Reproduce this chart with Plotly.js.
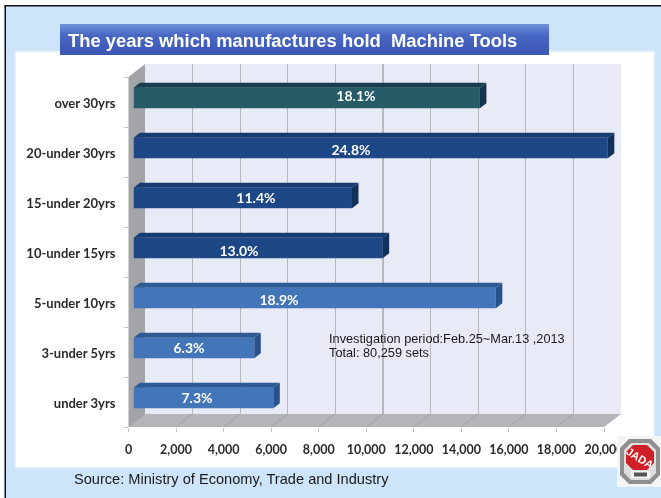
<!DOCTYPE html>
<html>
<head>
<meta charset="utf-8">
<script src="https://cdn.plot.ly/plotly-3.0.1.min.js"></script>
<style>html,body{margin:0;padding:0;background:#fff}#chart{width:661px;height:498px;filter:blur(0.6px)}</style>
</head>
<body>
<div id="chart"></div>
<script>
const categories = ["under 3yrs","3-under 5yrs","5-under 10yrs","10-under 15yrs","15-under 20yrs","20-under 30yrs","over 30yrs"];
const machines = [5880,5080,15240,10480,9190,19950,14570];
const shareLabels = ["7.3%","6.3%","18.9%","13.0%","11.4%","24.8%","18.1%"];
const labelX = [2670,2334,6119,4437,5150,9147,9357];
const labelY = [-0.02,-0.02,-0.06,-0.08,-0.02,-0.06,0.02];
const faceColors = ["#4375b9","#4375b9","#4375b9","#1d4786","#1d4786","#1d4786","#265b68"];
const topColors = ["#2e5a96","#2e5a96","#2e5a96","#173c72","#173c72","#173c72","#173f4e"];
const sideColors = ["#28508a","#28508a","#28508a","#12305c","#12305c","#12305c","#103350"];
const xTicks = [0,2000,4000,6000,8000,10000,12000,14000,16000,18000,20000];
const xTickText = ["0","2,000","4,000","6,000","8,000","10,000","12,000","14,000","16,000","18,000","20,000"];
const yBounds = [-0.5,0.5,1.5,2.5,3.5,4.5,5.5,6.5];
const titleText = "The years which manufactures hold  Machine Tools";
const sourceText = "Source: Ministry of Economy, Trade and Industry";
const noteLines = ["Investigation period:Feb.25~Mar.13 ,2013","Total: 80,259 sets"];

const W = 661, H = 498;
const px = v => v / W, py = v => 1 - v / H;
const xDom = (a, b) => [px(a), px(b)];
const yDom = (top, bottom) => [py(bottom), py(top)];
const xRange = [0, 20000], yRange = [-0.5, 6.5];
const pxPerX = (604 - 128.5) / 20000, pxPerY = 50;

const rect = (x0, y0, x1, y1, fill, layer) => ({type:"rect", xref:"paper", yref:"paper", x0:px(x0), x1:px(x1), y0:py(y1), y1:py(y0), fillcolor:fill, line:{width:0}, layer:layer||"below"});
const poly = (pts, fill, layer) => ({type:"path", xref:"paper", yref:"paper", path:"M"+pts.map(p=>px(p[0])+","+py(p[1])).join("L")+"Z", fillcolor:fill, line:{width:0}, layer:layer||"below"});
const octagon = (x0, y0, x1, y1, c, fill) => poly([[x0+c,y0],[x1-c,y0],[x1,y0+c],[x1,y1-c],[x1-c,y1],[x0+c,y1],[x0,y1-c],[x0,y0+c]], fill, "above");

const mix = (a, b, t) => "rgb(" + a.map((v,i)=>Math.round(v+(b[i]-v)*t)).join(",") + ")";
const shapes = [];
// slide background and frame
shapes.push(rect(0,0,661,498,"#cde5fb"));
shapes.push(rect(0,0,661,5,"#ffffff"));
shapes.push(rect(0,0,5,498,"#ffffff"));
shapes.push(rect(4.5,5,661,6.5,"#111111"));
shapes.push(rect(4.5,5,6,498,"#111111"));
shapes.push(rect(14.5,50.5,655,468.5,"#e3f0fc"));
shapes.push(rect(16,52,653.5,467,"#ffffff"));
// banner
for (let y = 24; y < 55; y++) {
  const t = (y-24)/30;
  const c = t < 0.35 ? mix([112,146,218],[72,104,196],t/0.35) : mix([72,104,196],[58,86,178],(t-0.35)/0.65);
  shapes.push(rect(60,y,549,y+1,c));
}
// chart box
shapes.push(poly([[145,64],[621,64],[621,414],[145,414]],"#e8ebf6"));
shapes.push(poly([[128.5,77],[145,64],[145,414],[128.5,427]],"#a2a4a8"));
shapes.push(poly([[128.5,427],[145,414],[621,414],[604,427]],"#b4b5b9"));
// logo
shapes.push(rect(617,436,661,487,"#f4f4f4","above"));
shapes.push(octagon(620,439,660,484,9,"#8f8f8f"));
shapes.push(octagon(624,443,656,480,7,"#dedede"));
shapes.push(octagon(626,445,654,470,7,"#cf2027"));
shapes.push(rect(631,471,650,478,"#f4f4f4","above"));
shapes.push(rect(634,472.5,647,476.5,"#555555","above"));

const traces = [];
// gridlines live on the back wall axes
traces.push({type:"scatter", x:[], y:[], xaxis:"x", yaxis:"y", hoverinfo:"skip", showlegend:false});
// axis labels sit on x2/y2; the tick marks and floor lines on x4/y4
traces.push({type:"scatter", x:[], y:[], xaxis:"x2", yaxis:"y2", hoverinfo:"skip", showlegend:false});
const fx = [], fy = [];
xTicks.forEach(t => { fx.push(t, t + 16.5/pxPerX, null); fy.push(-0.5, -0.5 + 13/pxPerY, null); });
traces.push({type:"scatter", mode:"lines", x:fx, y:fy, xaxis:"x4", yaxis:"y4", line:{color:"#a0a1a6", width:1}, hoverinfo:"skip", showlegend:false, cliponaxis:false});
// bar depth faces
const dx = 6.5/pxPerX, dy = 5/pxPerY, half = 0.205;
machines.forEach((v,i) => {
  const t = i+half, b = i-half;
  traces.push({type:"scatter", mode:"lines", fill:"toself", fillcolor:topColors[i], line:{width:0},
    x:[0,v,v+dx,dx,0], y:[t,t,t+dy,t+dy,t], xaxis:"x3", yaxis:"y3", hoverinfo:"skip", showlegend:false, cliponaxis:false});
  traces.push({type:"scatter", mode:"lines", fill:"toself", fillcolor:sideColors[i], line:{width:0},
    x:[v,v+dx,v+dx,v,v], y:[t,t+dy,b+dy,b,t], xaxis:"x3", yaxis:"y3", hoverinfo:"skip", showlegend:false, cliponaxis:false});
});
// bar front faces
traces.push({type:"bar", orientation:"h", x:machines, y:categories.map((c,i)=>i), width:half*2,
  marker:{color:faceColors, line:{width:0}}, xaxis:"x3", yaxis:"y3", hoverinfo:"skip", showlegend:false});
// percentage labels
traces.push({type:"scatter", mode:"text", x:labelX, y:labelY.map((d,i)=>i+d), text:shareLabels, textposition:"middle center",
  textfont:{family:"Lato, 'Open Sans', sans-serif", size:14, color:"#ffffff", weight:700}, xaxis:"x3", yaxis:"y3", hoverinfo:"skip", showlegend:false, cliponaxis:false});

const tickFont = {family:"Lato, 'Open Sans', sans-serif", size:12.5, color:"#2a2a2a", weight:700};
const yFont = {family:"Lato, 'Open Sans', sans-serif", size:13, color:"#2a2a2a", weight:700};
const layout = {
  width:W, height:H, autosize:false, margin:{l:0,r:0,t:0,b:0}, showlegend:false,
  paper_bgcolor:"#ffffff", plot_bgcolor:"rgba(0,0,0,0)", barmode:"overlay",
  xaxis:{domain:xDom(145,621), range:xRange, anchor:"y", showgrid:true, tickvals:xTicks, gridcolor:"#b6b8be", gridwidth:1.3, showticklabels:false, ticks:"", zeroline:false, showline:false, fixedrange:true},
  yaxis:{domain:yDom(64,414), range:yRange, anchor:"x", showgrid:false, showticklabels:false, ticks:"", zeroline:false, showline:false, fixedrange:true},
  xaxis2:{domain:xDom(128.5,604), range:xRange, anchor:"y4", showgrid:false, tickvals:xTicks, ticktext:xTickText, tickmode:"array", ticks:"outside", ticklen:4, tickcolor:"#c4c4c6", tickwidth:1, ticklabelstandoff:7, tickfont:tickFont, zeroline:false, showline:false, fixedrange:true},
  yaxis2:{domain:yDom(78.5,428.5), range:yRange, anchor:"x2", showgrid:false, tickmode:"array", tickvals:categories.map((c,i)=>i), ticktext:categories, ticks:"", ticklabelstandoff:12, tickfont:yFont, zeroline:false, showline:false, fixedrange:true},
  xaxis4:{domain:xDom(128.5,604), range:xRange, anchor:"y4", showgrid:false, showticklabels:false, ticks:"", zeroline:false, showline:false, fixedrange:true},
  yaxis4:{domain:yDom(77,427), range:yRange, anchor:"x4", showgrid:false, tickmode:"array", tickvals:yBounds, showticklabels:false, ticks:"outside", ticklen:4, tickcolor:"#c4c4c6", tickwidth:1, zeroline:false, showline:false, fixedrange:true},
  xaxis3:{domain:xDom(133.5,133.5+21000*pxPerX), range:[0,21000], anchor:"y3", showgrid:false, showticklabels:false, ticks:"", zeroline:false, showline:false, fixedrange:true},
  yaxis3:{domain:yDom(73,423), range:yRange, anchor:"x3", showgrid:false, showticklabels:false, ticks:"", zeroline:false, showline:false, fixedrange:true},
  shapes:shapes,
  annotations:[
    {xref:"paper", yref:"paper", x:px(65.5), y:py(40), xanchor:"left", yanchor:"middle", text:titleText, showarrow:false,
     font:{family:"Liberation Sans, Arial, sans-serif", size:18.4, color:"#ffffff", weight:700}},
    {xref:"paper", yref:"paper", x:px(72), y:py(479), xanchor:"left", yanchor:"middle", text:sourceText, showarrow:false,
     font:{family:"Liberation Sans, Arial, sans-serif", size:14.6, color:"#1a1a1a"}},
    {xref:"paper", yref:"paper", x:px(327), y:py(338), xanchor:"left", yanchor:"middle", text:noteLines[0], showarrow:false,
     font:{family:"Liberation Sans, Arial, sans-serif", size:12.75, color:"#1a1a1a"}},
    {xref:"paper", yref:"paper", x:px(327), y:py(352.5), xanchor:"left", yanchor:"middle", text:noteLines[1], showarrow:false,
     font:{family:"Liberation Sans, Arial, sans-serif", size:12.75, color:"#1a1a1a"}},
    {xref:"paper", yref:"paper", x:px(640), y:py(458), xanchor:"center", yanchor:"middle", text:"JADA", textangle:32, showarrow:false,
     font:{family:"Liberation Sans, Arial, sans-serif", size:11, color:"#ffffff", weight:700}}
  ]
};
Plotly.newPlot("chart", traces, layout, {displayModeBar:false, staticPlot:true});
</script>
</body>
</html>
